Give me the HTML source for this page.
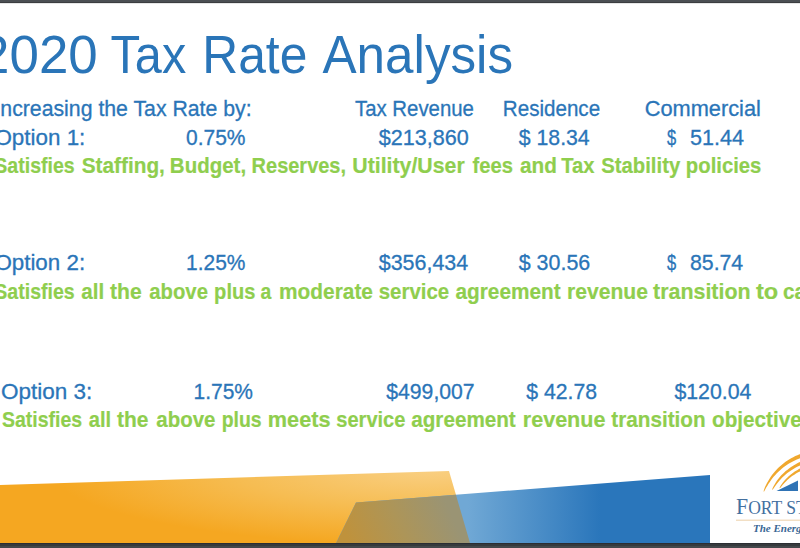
<!DOCTYPE html>
<html><head><meta charset="utf-8"><style>
html,body{margin:0;padding:0;background:#fff;}
body{width:800px;height:548px;overflow:hidden;position:relative;}
svg{position:absolute;left:0;top:0;display:block;}
text{font-family:"Liberation Sans",sans-serif;}
text.serif{font-family:"Liberation Serif",serif;}
</style></head><body>
<svg width="800" height="548" viewBox="0 0 800 548">
<defs>
<radialGradient id="og" cx="0" cy="0" r="1" gradientUnits="userSpaceOnUse" gradientTransform="translate(430,470) scale(380,75)">
<stop offset="0" stop-color="#f9cf82"/><stop offset="0.5" stop-color="#f6bd53"/><stop offset="1" stop-color="#f5a721"/>
</radialGradient>
<linearGradient id="bg" x1="468" y1="0" x2="600" y2="0" gradientUnits="userSpaceOnUse">
<stop offset="0" stop-color="#70a8d5"/><stop offset="1" stop-color="#2a76bb"/>
</linearGradient>
<linearGradient id="ovg" x1="350" y1="543" x2="445" y2="500" gradientUnits="userSpaceOnUse">
<stop offset="0" stop-color="#bf923c"/><stop offset="0.5" stop-color="#ad9558"/><stop offset="1" stop-color="#9a9474"/>
</linearGradient>
</defs>
<rect x="0" y="0" width="800" height="548" fill="#fff"/>
<!-- orange -->
<polygon points="0,485 449,471 470,543 0,543" fill="url(#og)"/>
<!-- blue -->
<polygon points="356,502.5 710,475 710,543 336,543" fill="url(#bg)"/>
<!-- overlap -->
<polygon points="356,502.5 455.9,494.7 470,543 336,543" fill="url(#ovg)"/>
<!-- logo -->
<g fill="#f0a82e">
<path d="M763.5,491.4 L764.2,489.2 L765.0,487.0 L766.0,484.9 L767.0,482.9 L768.2,480.9 L769.4,478.9 L770.6,477.0 L772.0,475.1 L773.4,473.3 L774.9,471.5 L776.5,469.8 L778.1,468.1 L779.8,466.5 L781.6,465.0 L783.4,463.5 L785.2,462.1 L787.1,460.8 L789.1,459.5 L791.1,458.3 L793.2,457.2 L795.3,456.1 L797.4,455.2 L799.6,454.3 L801.8,453.5 L804.0,452.8 L806.3,452.2 L808.6,451.7 L810.9,451.3 L813.2,450.9 L815.5,450.6 L817.9,450.4 L820.2,450.3 L822.5,450.3 L824.9,450.4 L827.2,450.5 L829.5,450.7 L831.9,451.1 L834.2,451.5 L836.5,451.9 L838.7,452.5 L837.8,456.2 L835.6,455.6 L833.5,455.2 L831.3,454.8 L829.1,454.5 L826.9,454.3 L824.7,454.2 L822.5,454.1 L820.3,454.1 L818.1,454.2 L815.9,454.4 L813.7,454.7 L811.5,455.0 L809.4,455.4 L807.2,455.9 L805.1,456.5 L803.0,457.1 L800.9,457.9 L798.8,458.7 L796.8,459.5 L794.8,460.4 L792.8,461.4 L790.9,462.5 L789.0,463.6 L787.1,464.8 L785.3,466.0 L783.5,467.3 L781.7,468.7 L780.1,470.2 L778.4,471.7 L776.8,473.3 L775.3,474.9 L773.8,476.6 L772.4,478.3 L771.1,480.1 L769.8,481.9 L768.5,483.8 L767.4,485.7 L766.2,487.6 L765.2,489.6 L764.1,491.6Z"/>
<path d="M772.1,489.6 L772.8,487.8 L773.7,486.1 L774.6,484.4 L775.6,482.8 L776.7,481.1 L777.8,479.6 L779.0,478.1 L780.2,476.6 L781.5,475.1 L782.9,473.7 L784.2,472.4 L785.7,471.1 L787.2,469.9 L788.7,468.7 L790.3,467.5 L791.9,466.4 L793.5,465.4 L795.2,464.4 L796.9,463.5 L798.7,462.6 L800.5,461.8 L802.3,461.1 L804.1,460.5 L806.0,459.9 L807.9,459.4 L809.8,458.9 L811.7,458.5 L813.6,458.2 L815.6,458.0 L817.5,457.8 L819.4,457.7 L821.4,457.6 L823.4,457.6 L825.3,457.7 L827.3,457.8 L829.2,458.1 L831.1,458.3 L833.1,458.7 L835.0,459.1 L836.9,459.6 L836.0,462.8 L834.2,462.4 L832.4,462.0 L830.6,461.7 L828.8,461.4 L826.9,461.2 L825.1,461.1 L823.3,461.0 L821.4,461.0 L819.6,461.1 L817.8,461.2 L815.9,461.3 L814.1,461.6 L812.3,461.9 L810.5,462.2 L808.7,462.7 L806.9,463.1 L805.2,463.7 L803.4,464.3 L801.7,464.9 L800.0,465.6 L798.3,466.3 L796.7,467.1 L795.0,468.0 L793.4,468.9 L791.8,469.9 L790.3,470.9 L788.8,471.9 L787.3,473.1 L785.9,474.2 L784.5,475.4 L783.1,476.7 L781.8,478.0 L780.5,479.4 L779.3,480.8 L778.1,482.2 L776.9,483.7 L775.8,485.2 L774.7,486.7 L773.7,488.3 L772.6,489.8Z"/>
<path d="M779.5,487.9 L780.2,486.5 L781.1,485.1 L782.0,483.8 L782.9,482.5 L783.9,481.2 L785.0,480.0 L786.1,478.8 L787.2,477.7 L788.4,476.6 L789.6,475.5 L790.8,474.4 L792.1,473.4 L793.4,472.5 L794.7,471.6 L796.1,470.7 L797.5,469.9 L798.9,469.1 L800.4,468.4 L801.8,467.7 L803.3,467.0 L804.9,466.4 L806.4,465.9 L808.0,465.4 L809.5,465.0 L811.1,464.6 L812.7,464.3 L814.3,464.0 L815.9,463.8 L817.6,463.6 L819.2,463.5 L820.8,463.5 L822.4,463.5 L824.1,463.5 L825.7,463.6 L827.3,463.7 L829.0,463.9 L830.6,464.2 L832.2,464.5 L833.8,464.8 L835.3,465.2 L834.6,468.0 L833.1,467.6 L831.6,467.3 L830.1,467.0 L828.6,466.8 L827.0,466.6 L825.5,466.5 L824.0,466.4 L822.4,466.4 L820.9,466.4 L819.3,466.4 L817.8,466.5 L816.3,466.7 L814.8,466.9 L813.2,467.1 L811.7,467.4 L810.2,467.8 L808.7,468.2 L807.3,468.6 L805.8,469.1 L804.3,469.6 L802.9,470.1 L801.5,470.7 L800.1,471.4 L798.7,472.1 L797.3,472.8 L796.0,473.6 L794.7,474.4 L793.4,475.2 L792.1,476.1 L790.9,477.1 L789.6,478.0 L788.5,479.0 L787.3,480.1 L786.2,481.2 L785.1,482.3 L784.0,483.4 L783.0,484.6 L782.0,485.8 L781.0,487.0 L780.0,488.2Z"/>
</g>
<polygon points="776.5,491 798,480.4 798,491" fill="#2f73b5"/>
<rect x="736" y="519.6" width="64" height="1.2" fill="#efd7b6"/>
<text class="serif" x="736" y="513.7" fill="#44709f" font-size="23" transform="translate(736,513.7) scale(0.95,1) translate(-736,-513.7)">F<tspan font-size="18.5">ORT ST</tspan></text>
<text class="serif" x="753" y="532.4" fill="#3a6795" font-size="11" font-weight="bold" font-style="italic">The Energetic City</text>
<!-- top band -->
<rect x="0" y="0" width="800" height="2" fill="#4b4f53"/>
<rect x="0" y="2" width="800" height="1" fill="#3b3e41"/>
<rect x="0" y="3" width="800" height="1" fill="#e6e7e7"/>
<!-- bottom band -->
<rect x="0" y="543" width="800" height="1" fill="#2b2e33"/>
<rect x="0" y="544" width="800" height="2" fill="#363a3d"/>
<rect x="0" y="546" width="800" height="2" fill="#44484b"/>
<text transform="translate(-19.90,73) scale(0.9976,1)" font-size="53" fill="#2a75b8" xml:space="preserve">2020</text>
<text transform="translate(110.58,73) scale(0.9169,1)" font-size="53" fill="#2a75b8" xml:space="preserve">Tax</text>
<text transform="translate(202.24,73) scale(0.9392,1)" font-size="53" fill="#2a75b8" xml:space="preserve">Rate</text>
<text transform="translate(322.40,73) scale(0.9665,1)" font-size="53" fill="#2a75b8" xml:space="preserve">Analysis</text>
<text transform="translate(0.33,115.5) scale(0.9665,1)" font-size="22" fill="#2a75b8" stroke="#2a75b8" stroke-width="0.3" xml:space="preserve">ncreasing the Tax Rate by:</text>
<text transform="translate(355.00,115.5) scale(0.9265,1)" font-size="22" fill="#2a75b8" stroke="#2a75b8" stroke-width="0.3" xml:space="preserve">Tax Revenue</text>
<text transform="translate(502.81,115.5) scale(0.9370,1)" font-size="22" fill="#2a75b8" stroke="#2a75b8" stroke-width="0.3" xml:space="preserve">Residence</text>
<text transform="translate(644.76,115.5) scale(0.9895,1)" font-size="22" fill="#2a75b8" stroke="#2a75b8" stroke-width="0.3" xml:space="preserve">Commercial</text>
<text transform="translate(-5.62,145) scale(1.0193,1)" font-size="22" fill="#2a75b8" stroke="#2a75b8" stroke-width="0.3" xml:space="preserve">Option 1:</text>
<text transform="translate(186.00,145) scale(0.9544,1)" font-size="22" fill="#2a75b8" stroke="#2a75b8" stroke-width="0.3" xml:space="preserve">0.75%</text>
<text transform="translate(378.75,145) scale(0.9833,1)" font-size="22" fill="#2a75b8" stroke="#2a75b8" stroke-width="0.3" xml:space="preserve">$213,860</text>
<text transform="translate(518.75,145) scale(0.9670,1)" font-size="22" fill="#2a75b8" stroke="#2a75b8" stroke-width="0.3" xml:space="preserve">$ 18.34</text>
<text transform="translate(667.00,145) scale(0.7500,1)" font-size="22" fill="#2a75b8" stroke="#2a75b8" stroke-width="0.3" xml:space="preserve">$</text>
<text transform="translate(690.00,145) scale(0.9805,1)" font-size="22" fill="#2a75b8" stroke="#2a75b8" stroke-width="0.3" xml:space="preserve">51.44</text>
<text transform="translate(-5.62,270) scale(1.0165,1)" font-size="22" fill="#2a75b8" stroke="#2a75b8" stroke-width="0.3" xml:space="preserve">Option 2:</text>
<text transform="translate(186.05,270) scale(0.9537,1)" font-size="22" fill="#2a75b8" stroke="#2a75b8" stroke-width="0.3" xml:space="preserve">1.25%</text>
<text transform="translate(378.75,270) scale(0.9751,1)" font-size="22" fill="#2a75b8" stroke="#2a75b8" stroke-width="0.3" xml:space="preserve">$356,434</text>
<text transform="translate(518.75,270) scale(0.9738,1)" font-size="22" fill="#2a75b8" stroke="#2a75b8" stroke-width="0.3" xml:space="preserve">$ 30.56</text>
<text transform="translate(667.00,270) scale(0.7500,1)" font-size="22" fill="#2a75b8" stroke="#2a75b8" stroke-width="0.3" xml:space="preserve">$</text>
<text transform="translate(690.00,270) scale(0.9668,1)" font-size="22" fill="#2a75b8" stroke="#2a75b8" stroke-width="0.3" xml:space="preserve">85.74</text>
<text transform="translate(0.98,399) scale(1.0239,1)" font-size="22" fill="#2a75b8" stroke="#2a75b8" stroke-width="0.3" xml:space="preserve">Option 3:</text>
<text transform="translate(193.55,399) scale(0.9537,1)" font-size="22" fill="#2a75b8" stroke="#2a75b8" stroke-width="0.3" xml:space="preserve">1.75%</text>
<text transform="translate(386.25,399) scale(0.9642,1)" font-size="22" fill="#2a75b8" stroke="#2a75b8" stroke-width="0.3" xml:space="preserve">$499,007</text>
<text transform="translate(526.25,399) scale(0.9636,1)" font-size="22" fill="#2a75b8" stroke="#2a75b8" stroke-width="0.3" xml:space="preserve">$ 42.78</text>
<text transform="translate(674.40,399) scale(0.9686,1)" font-size="22" fill="#2a75b8" stroke="#2a75b8" stroke-width="0.3" xml:space="preserve">$120.04</text>
<text transform="translate(-5.70,172.5) scale(0.8687,1)" font-size="22.5" fill="#8fce4e" stroke="#8fce4e" stroke-width="0.2" font-weight="bold" xml:space="preserve">Satisfies</text>
<text transform="translate(81.75,172.5) scale(0.9241,1)" font-size="22.5" fill="#8fce4e" stroke="#8fce4e" stroke-width="0.2" font-weight="bold" xml:space="preserve">Staffing,</text>
<text transform="translate(169.84,172.5) scale(0.9112,1)" font-size="22.5" fill="#8fce4e" stroke="#8fce4e" stroke-width="0.2" font-weight="bold" xml:space="preserve">Budget,</text>
<text transform="translate(251.61,172.5) scale(0.8887,1)" font-size="22.5" fill="#8fce4e" stroke="#8fce4e" stroke-width="0.2" font-weight="bold" xml:space="preserve">Reserves,</text>
<text transform="translate(352.30,172.5) scale(0.9468,1)" font-size="22.5" fill="#8fce4e" stroke="#8fce4e" stroke-width="0.2" font-weight="bold" xml:space="preserve">Utility/User</text>
<text transform="translate(472.50,172.5) scale(0.8985,1)" font-size="22.5" fill="#8fce4e" stroke="#8fce4e" stroke-width="0.2" font-weight="bold" xml:space="preserve">fees</text>
<text transform="translate(520.00,172.5) scale(0.9234,1)" font-size="22.5" fill="#8fce4e" stroke="#8fce4e" stroke-width="0.2" font-weight="bold" xml:space="preserve">and</text>
<text transform="translate(561.25,172.5) scale(0.8979,1)" font-size="22.5" fill="#8fce4e" stroke="#8fce4e" stroke-width="0.2" font-weight="bold" xml:space="preserve">Tax</text>
<text transform="translate(601.25,172.5) scale(0.9024,1)" font-size="22.5" fill="#8fce4e" stroke="#8fce4e" stroke-width="0.2" font-weight="bold" xml:space="preserve">Stability policies</text>
<text transform="translate(-5.70,299) scale(0.8687,1)" font-size="22.5" fill="#8fce4e" stroke="#8fce4e" stroke-width="0.2" font-weight="bold" xml:space="preserve">Satisfies</text>
<text transform="translate(81.25,299) scale(0.9152,1)" font-size="22.5" fill="#8fce4e" stroke="#8fce4e" stroke-width="0.2" font-weight="bold" xml:space="preserve">all</text>
<text transform="translate(110.00,299) scale(0.9402,1)" font-size="22.5" fill="#8fce4e" stroke="#8fce4e" stroke-width="0.2" font-weight="bold" xml:space="preserve">the</text>
<text transform="translate(149.25,299) scale(0.9029,1)" font-size="22.5" fill="#8fce4e" stroke="#8fce4e" stroke-width="0.2" font-weight="bold" xml:space="preserve">above</text>
<text transform="translate(214.11,299) scale(0.8941,1)" font-size="22.5" fill="#8fce4e" stroke="#8fce4e" stroke-width="0.2" font-weight="bold" xml:space="preserve">plus</text>
<text transform="translate(260.40,299) scale(0.8615,1)" font-size="22.5" fill="#8fce4e" stroke="#8fce4e" stroke-width="0.2" font-weight="bold" xml:space="preserve">a</text>
<text transform="translate(279.07,299) scale(0.9271,1)" font-size="22.5" fill="#8fce4e" stroke="#8fce4e" stroke-width="0.2" font-weight="bold" xml:space="preserve">moderate</text>
<text transform="translate(378.75,299) scale(0.9084,1)" font-size="22.5" fill="#8fce4e" stroke="#8fce4e" stroke-width="0.2" font-weight="bold" xml:space="preserve">service</text>
<text transform="translate(455.50,299) scale(0.9252,1)" font-size="22.5" fill="#8fce4e" stroke="#8fce4e" stroke-width="0.2" font-weight="bold" xml:space="preserve">agreement</text>
<text transform="translate(567.06,299) scale(0.9377,1)" font-size="22.5" fill="#8fce4e" stroke="#8fce4e" stroke-width="0.2" font-weight="bold" xml:space="preserve">revenue</text>
<text transform="translate(653.00,299) scale(0.9532,1)" font-size="22.5" fill="#8fce4e" stroke="#8fce4e" stroke-width="0.2" font-weight="bold" xml:space="preserve">transition</text>
<text transform="translate(756.00,299) scale(1.0492,1)" font-size="22.5" fill="#8fce4e" stroke="#8fce4e" stroke-width="0.2" font-weight="bold" xml:space="preserve">to</text>
<text transform="translate(783.10,299) scale(0.9200,1)" font-size="22.5" fill="#8fce4e" stroke="#8fce4e" stroke-width="0.2" font-weight="bold" xml:space="preserve">capacity</text>
<text transform="translate(2.00,426.5) scale(0.8665,1)" font-size="22.5" fill="#8fce4e" stroke="#8fce4e" stroke-width="0.2" font-weight="bold" xml:space="preserve">Satisfies</text>
<text transform="translate(88.75,426.5) scale(0.8942,1)" font-size="22.5" fill="#8fce4e" stroke="#8fce4e" stroke-width="0.2" font-weight="bold" xml:space="preserve">all</text>
<text transform="translate(117.00,426.5) scale(0.9327,1)" font-size="22.5" fill="#8fce4e" stroke="#8fce4e" stroke-width="0.2" font-weight="bold" xml:space="preserve">the</text>
<text transform="translate(156.25,426.5) scale(0.9106,1)" font-size="22.5" fill="#8fce4e" stroke="#8fce4e" stroke-width="0.2" font-weight="bold" xml:space="preserve">above</text>
<text transform="translate(221.63,426.5) scale(0.8661,1)" font-size="22.5" fill="#8fce4e" stroke="#8fce4e" stroke-width="0.2" font-weight="bold" xml:space="preserve">plus</text>
<text transform="translate(267.79,426.5) scale(0.9642,1)" font-size="22.5" fill="#8fce4e" stroke="#8fce4e" stroke-width="0.2" font-weight="bold" xml:space="preserve">meets</text>
<text transform="translate(336.25,426.5) scale(0.8921,1)" font-size="22.5" fill="#8fce4e" stroke="#8fce4e" stroke-width="0.2" font-weight="bold" xml:space="preserve">service</text>
<text transform="translate(411.25,426.5) scale(0.9186,1)" font-size="22.5" fill="#8fce4e" stroke="#8fce4e" stroke-width="0.2" font-weight="bold" xml:space="preserve">agreement</text>
<text transform="translate(522.79,426.5) scale(0.9583,1)" font-size="22.5" fill="#8fce4e" stroke="#8fce4e" stroke-width="0.2" font-weight="bold" xml:space="preserve">revenue</text>
<text transform="translate(611.25,426.5) scale(0.9213,1)" font-size="22.5" fill="#8fce4e" stroke="#8fce4e" stroke-width="0.2" font-weight="bold" xml:space="preserve">transition</text>
<text transform="translate(712.00,426.5) scale(0.9200,1)" font-size="22.5" fill="#8fce4e" stroke="#8fce4e" stroke-width="0.2" font-weight="bold" xml:space="preserve">objectives</text>
</svg>
</body></html>
